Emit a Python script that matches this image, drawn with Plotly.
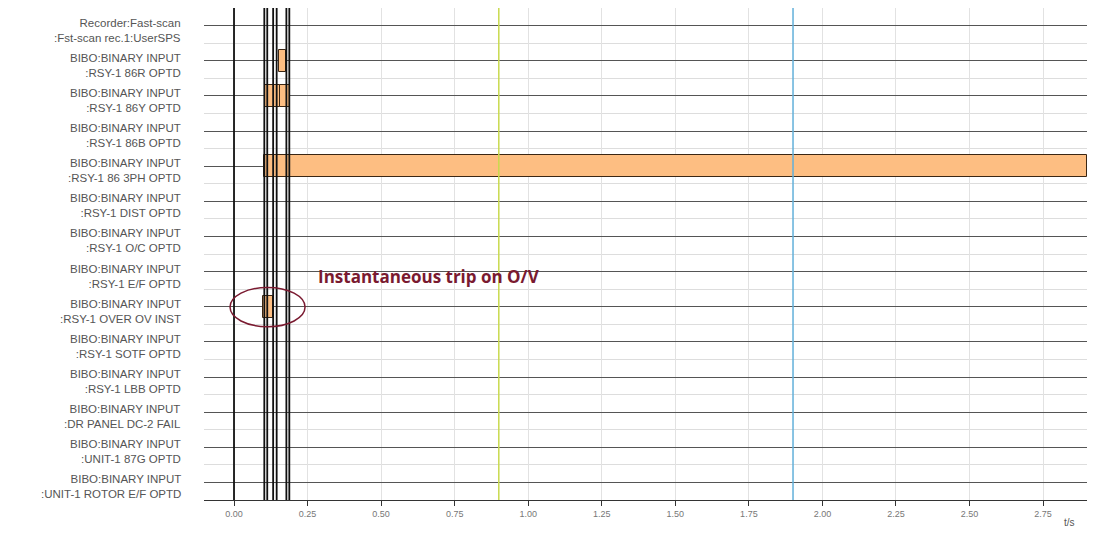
import plotly.graph_objects as go

# ---- data ----
label_line1 = [
    "Recorder:Fast-scan",
    "BIBO:BINARY INPUT", "BIBO:BINARY INPUT", "BIBO:BINARY INPUT", "BIBO:BINARY INPUT",
    "BIBO:BINARY INPUT", "BIBO:BINARY INPUT", "BIBO:BINARY INPUT", "BIBO:BINARY INPUT",
    "BIBO:BINARY INPUT", "BIBO:BINARY INPUT", "BIBO:BINARY INPUT", "BIBO:BINARY INPUT",
    "BIBO:BINARY INPUT",
]
label_line2 = [
    ":Fst-scan rec.1:UserSPS",
    ":RSY-1 86R OPTD", ":RSY-1 86Y OPTD", ":RSY-1 86B OPTD", ":RSY-1 86 3PH OPTD",
    ":RSY-1 DIST OPTD", ":RSY-1 O/C OPTD", ":RSY-1 E/F OPTD", ":RSY-1 OVER OV INST",
    ":RSY-1 SOTF OPTD", ":RSY-1 LBB OPTD", ":DR PANEL DC-2 FAIL", ":UNIT-1 87G OPTD",
    ":UNIT-1 ROTOR E/F OPTD",
]
# active (binary high) intervals: row index, start, end  (s)
bar_rows = [1, 2, 2, 4, 8]
bar_start = [0.152, 0.104, 0.155, 0.103, 0.100]
bar_end = [0.178, 0.155, 0.190, 2.900, 0.133]

cursor_times = [0.0, 0.103, 0.113, 0.133, 0.145, 0.178, 0.188]
marker_yellow = 0.90
marker_blue = 1.90
tick_vals = [0.0, 0.25, 0.5, 0.75, 1.0, 1.25, 1.5, 1.75, 2.0, 2.25, 2.5, 2.75]
x_range = [-0.102, 2.906]
annot_text = "Instantaneous trip on O/V"
annot_row = 8

n_rows = len(label_line1)

fig = go.Figure()
fig.add_trace(go.Bar(
    orientation="h",
    y=bar_rows,
    base=bar_start,
    x=[e - s for s, e in zip(bar_start, bar_end)],
    width=0.63,
    marker=dict(color="#FDBE82", line=dict(color="#3a2614", width=1)),
    hoverinfo="skip",
    showlegend=False,
))

shapes = []
for t in cursor_times:
    shapes.append(dict(type="line", xref="x", yref="paper", x0=t, x1=t, y0=0, y1=1,
                       line=dict(color="#111111", width=1.8), layer="above"))
shapes.append(dict(type="line", xref="x", yref="paper", x0=marker_yellow, x1=marker_yellow,
                   y0=0, y1=1, line=dict(color="#C9DA4E", width=1.5), layer="above"))
shapes.append(dict(type="line", xref="x", yref="paper", x0=marker_blue, x1=marker_blue,
                   y0=0, y1=1, line=dict(color="#62B0DA", width=1.5), layer="above"))

# hand-drawn style ring around the O/V bar
i_ov = bar_rows.index(annot_row)
cx = (bar_start[i_ov] + bar_end[i_ov]) / 2
shapes.append(dict(type="circle", xref="x", yref="y",
                   x0=cx - 0.13, x1=cx + 0.125, y0=annot_row - 0.55, y1=annot_row + 0.57,
                   line=dict(color="#7A1A30", width=1.5), layer="above"))

annotations = []
for i in range(n_rows):
    annotations.append(dict(xref="paper", yref="y", x=0, y=i, xshift=-21, yshift=-4.5,
                            xanchor="right", yanchor="middle", align="right",
                            showarrow=False,
                            text=label_line1[i] + "<br>" + label_line2[i],
                            font=dict(family="Liberation Sans, Arial", size=11.5, color="#555555")))

annotations.append(dict(xref="x", yref="y", x=0.28, y=annot_row - 0.85,
                        xanchor="left", yanchor="middle", showarrow=False,
                        text="<b>" + annot_text + "</b>",
                        font=dict(family="Open Sans, Liberation Sans", size=17, color="#7A1A30")))
annotations.append(dict(xref="paper", yref="paper", x=0.9785, y=-0.045,
                        xanchor="center", yanchor="middle", showarrow=False, text="t/s",
                        font=dict(family="Liberation Sans, Arial", size=10, color="#555555")))

# the page body has an 8px margin, so the figure is sized/offset to compensate
fig.update_layout(
    width=1087, height=526,
    margin=dict(l=196, r=6, t=0, b=34, autoexpand=False),
    paper_bgcolor="white", plot_bgcolor="white",
    bargap=0,
    shapes=shapes,
    annotations=annotations,
    xaxis=dict(range=x_range, tickvals=tick_vals, tickformat=".2f",
               showgrid=True, gridcolor="#E2E2E2", gridwidth=1,
               zeroline=False, showline=True, linecolor="#333333", linewidth=1.2,
               ticks="outside", ticklen=5, tickcolor="#333333",
               tickfont=dict(family="Liberation Sans, Arial", size=9, color="#777777")),
    yaxis=dict(range=[n_rows - 0.5, -0.5], tickmode="array",
               tickvals=list(range(n_rows)), ticktext=[""] * n_rows,
               showgrid=True, gridcolor="#555555", gridwidth=1,
               zeroline=False, showline=False, ticks="",
               minor=dict(tickmode="linear", tick0=0.5, dtick=1, showgrid=True,
                          gridcolor="#DDDDDD", gridwidth=1, ticks="")),
)

fig.write_html("out.html")
